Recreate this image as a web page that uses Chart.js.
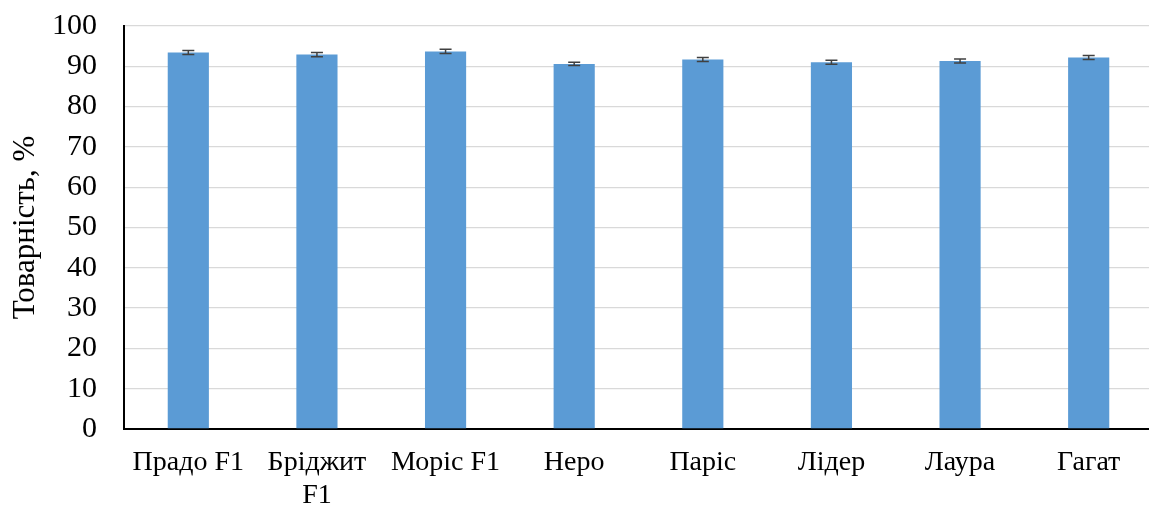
<!DOCTYPE html>
<html>
<head>
<meta charset="utf-8">
<script src="https://cdn.jsdelivr.net/npm/chart.js@4"></script>
<style>
  html, body { margin: 0; padding: 0; background: #fff; overflow: hidden; }
  #wrap { width: 1160px; height: 509px; }
</style>
</head>
<body>
<div id="wrap"><canvas id="chart" width="1160" height="509"></canvas></div>
<script>
const categories = ["Прадо F1", ["Бріджит", "F1"], "Моріс F1", "Неро", "Паріс", "Лідер", "Лаура", "Гагат"];
const values = [93.4, 92.9, 93.7, 90.6, 91.7, 91.0, 91.3, 92.2];
const errors = [0.5, 0.5, 0.5, 0.4, 0.5, 0.5, 0.5, 0.5];
const yTicks = [0, 10, 20, 30, 40, 50, 60, 70, 80, 90, 100];

// draws the small error bars on top of each bar
const errorBars = {
  id: "errorBars",
  afterDatasetsDraw(chart) {
    const ctx = chart.ctx;
    const y = chart.scales.y;
    const bars = chart.getDatasetMeta(0).data;
    ctx.save();
    ctx.strokeStyle = "#404040";
    ctx.lineWidth = 1.5;
    bars.forEach((bar, i) => {
      const top = y.getPixelForValue(values[i] + errors[i]);
      const bottom = y.getPixelForValue(values[i] - errors[i]);
      const half = 6;
      ctx.beginPath();
      ctx.moveTo(bar.x, top);
      ctx.lineTo(bar.x, bottom);
      ctx.moveTo(bar.x - half, top);
      ctx.lineTo(bar.x + half, top);
      ctx.moveTo(bar.x - half, bottom);
      ctx.lineTo(bar.x + half, bottom);
      ctx.stroke();
    });
    ctx.restore();
  }
};

new Chart(document.getElementById("chart"), {
  type: "bar",
  data: {
    labels: categories,
    datasets: [{
      data: values,
      backgroundColor: "#5b9bd5",
      barPercentage: 0.32,
      categoryPercentage: 1
    }]
  },
  options: {
    responsive: false,
    animation: false,
    layout: { padding: { top: 26, right: 7, left: 0, bottom: 0 } },
    plugins: {
      legend: { display: false },
      tooltip: { enabled: false }
    },
    scales: {
      x: {
        grid: { display: false, drawTicks: false },
        border: { color: "#000", width: 2 },
        ticks: {
          color: "#000",
          padding: 18,
          maxRotation: 0,
          autoSkip: false,
          font: { family: "Liberation Serif", size: 28, lineHeight: 1.15 }
        },
        afterFit(scale) { scale.height = 80; }
      },
      y: {
        min: 0,
        max: 100,
        afterBuildTicks(scale) { scale.ticks = yTicks.map(v => ({ value: v })); },
        grid: { color: "#d9d9d9", lineWidth: 1.3, drawTicks: false },
        border: { color: "#000", width: 2 },
        ticks: {
          color: "#000",
          padding: 27,
          autoSkip: false,
          font: { family: "Liberation Serif", size: 30 }
        },
        title: {
          display: true,
          text: "Товарність, %",
          color: "#000",
          padding: { top: 7, bottom: 0 },
          font: { family: "Liberation Serif", size: 31, lineHeight: 1.2 }
        },
        afterFit(scale) {
          scale.width = 124;
          scale.paddingTop = 0;
          scale.paddingBottom = 0;
        }
      }
    }
  },
  plugins: [errorBars]
});
</script>
</body>
</html>
